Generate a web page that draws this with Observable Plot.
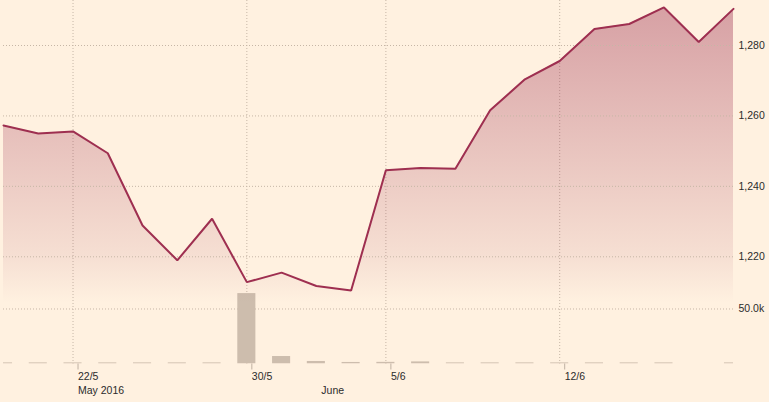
<!DOCTYPE html>
<html><head><meta charset="utf-8">
<script src="https://cdn.jsdelivr.net/npm/d3@7"></script>
<script src="https://cdn.jsdelivr.net/npm/@observablehq/plot@0.6"></script>
<style>
html,body{margin:0;padding:0;background:#fff1e0;}
#chart{position:relative;width:769px;height:402px;overflow:hidden;}
#chart svg{position:absolute;left:0;top:0;}
</style></head><body><div id="chart"></div>
<script>
// Daily closing prices (index positions = trading days)
const prices = [1257.3, 1255.0, 1255.6, 1249.4, 1228.9, 1219.0, 1230.8, 1212.8, 1215.5, 1211.7, 1210.4,
                1244.6, 1245.2, 1245.0, 1261.6, 1270.4, 1275.6, 1284.7, 1286.1, 1290.8, 1281.0, 1290.4];
// Daily volumes
const volumes = [1000, 1000, 1000, 1000, 1000, 1000, 1000, 64000, 6800, 2300, 1400,
                 1500, 1900, 1000, 1000, 1000, 1000, 1000, 1000, 1000, 0, 1000];
const tickIndex = [2, 7, 11, 16];
const tickLabels = ["22/5", "30/5", "5/6", "12/6"];
const monthIndex = [2, 9];
const monthLabels = ["May 2016", "June"];
const priceTicks = [1220, 1240, 1260, 1280];
const volumeTicks = [50000];
const volumeTickLabels = ["50.0k"];

const data = prices.map((p, i) => ({i, price: p, volume: volumes[i]}));
const W = 769, H = 402;
const font = "'Liberation Sans', Arial, sans-serif";
const gridColor = "#c6b6a6";
const textColor = "#2b2b2b";

const volPlot = Plot.plot({
  width: W, height: H, marginLeft: 3, marginRight: 36, marginTop: 0, marginBottom: 38.5,
  style: {background: "transparent", fontFamily: font, fontSize: "10.5px", color: textColor, overflow: "visible"},
  x: {domain: [0, prices.length - 1], label: null},
  y: {domain: [0, 330450], label: null},
  marks: [
    Plot.ruleX(tickIndex, {stroke: gridColor, strokeDasharray: "1,2"}),
    Plot.ruleY(volumeTicks, {stroke: gridColor, strokeDasharray: "1,2"}),
    Plot.rectY(data, {x1: d => d.i - 0.26, x2: d => d.i + 0.26, y: "volume", fill: "#cdbdad", clip: true}),
    Plot.axisX(tickIndex, {tickFormat: d => tickLabels[tickIndex.indexOf(d)], tickSize: 6, tickPadding: 2.5,
      textAnchor: "start", dx: 5, stroke: "#bfb0a2", fill: textColor, label: null}),
    Plot.axisX(monthIndex, {tickFormat: d => monthLabels[monthIndex.indexOf(d)], tickSize: 0, tickPadding: 23,
      textAnchor: "start", dx: 5, fill: textColor, label: null}),
    Plot.axisY(volumeTicks, {anchor: "right", tickFormat: d => volumeTickLabels[volumeTicks.indexOf(d)],
      tickSize: 0, tickPadding: 5, fill: textColor, label: null})
  ]
});

const pricePlot = Plot.plot({
  width: W, height: H, marginLeft: 3, marginRight: 36, marginTop: 0, marginBottom: 110.5,
  style: {background: "transparent", fontFamily: font, fontSize: "10.5px", color: textColor, overflow: "visible"},
  x: {domain: [0, prices.length - 1], axis: null},
  y: {domain: [1210, 1292.78], label: null},
  marks: [
    Plot.areaY(data, {x: "i", y1: 1206.7, y2: "price", fill: "url(#areaGrad)"}),
    Plot.ruleY(priceTicks, {stroke: gridColor, strokeDasharray: "1,2"}),
    Plot.line(data, {x: "i", y: "price", stroke: "#9e2f50", strokeWidth: 2, strokeLinejoin: "miter"}),
    Plot.axisY(priceTicks, {anchor: "right", tickFormat: d3.format(","), tickSize: 0, tickPadding: 5,
      fill: textColor, label: null})
  ]
});

const defs = d3.select(pricePlot).insert("defs", ":first-child");
const grad = defs.append("linearGradient").attr("id", "areaGrad")
  .attr("gradientUnits", "userSpaceOnUse").attr("x1", 0).attr("x2", 0).attr("y1", 0).attr("y2", 303);
grad.append("stop").attr("offset", "0").attr("stop-color", "#9e2f50").attr("stop-opacity", 0.425);
grad.append("stop").attr("offset", "0.845").attr("stop-color", "#9e2f50").attr("stop-opacity", 0.093);
grad.append("stop").attr("offset", "1").attr("stop-color", "#9e2f50").attr("stop-opacity", 0);

const chart = document.getElementById("chart");
chart.appendChild(volPlot);
chart.appendChild(pricePlot);
</script>
</body></html>
